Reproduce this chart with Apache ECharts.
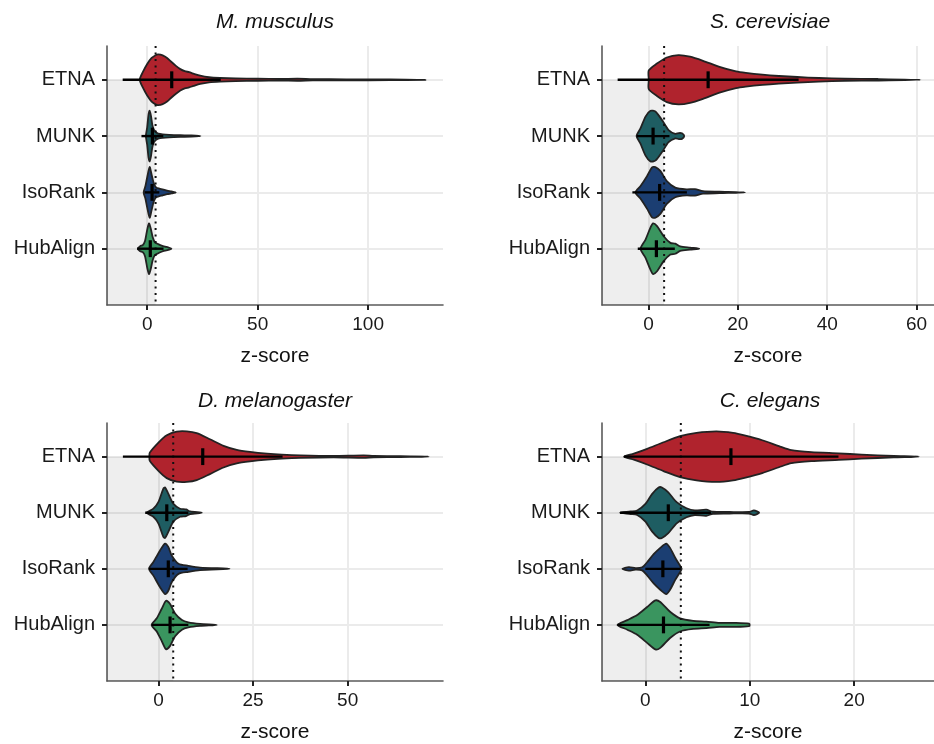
<!DOCTYPE html>
<html>
<head>
<meta charset="utf-8">
<script src="https://cdn.jsdelivr.net/npm/echarts@6/dist/echarts.min.js"></script>
<style>
  html, body { margin: 0; padding: 0; background: #fff; }
  #chart { width: 934px; height: 744px; }
</style>
</head>
<body>
<div id="chart"></div>
<script>
const methods = ['ETNA', 'MUNK', 'IsoRank', 'HubAlign'];
const methodColors = ['#b0232d', '#1e5d62', '#1b3e72', '#3a955f'];
const species = ['M. musculus', 'S. cerevisiae', 'D. melanogaster', 'C. elegans'];
const xMin = [-18.2, -10.4, -13.6, -4.15];
const xMax = [133.9, 63.9, 75.2, 27.65];
const xTicks = [[0, 50, 100], [0, 20, 40, 60], [0, 25, 50], [0, 10, 20]];
const threshold = [3.8, 3.5, 3.9, 3.4];

// mean and mean +/- sd, order ETNA, MUNK, IsoRank, HubAlign
const musculusMean = [11.1, 2.35, 2.2, 1.4];
const musculusLo = [-11.1, -2.6, -1.1, -4.6];
const musculusHi = [33.3, 7.3, 5.5, 7.4];
const cerevisiaeMean = [13.35, 1.03, 2.5, 1.77];
const cerevisiaeLo = [-6.9, -2.65, -3.6, -2.4];
const cerevisiaeHi = [33.6, 4.7, 8.6, 5.9];
const melanogasterMean = [11.7, 2.2, 2.6, 3.07];
const melanogasterLo = [-9.4, -3.5, -2.5, -1.8];
const melanogasterHi = [32.8, 7.9, 7.7, 7.9];
const elegansMean = [8.2, 2.2, 1.68, 1.74];
const elegansLo = [-2.04, -2.42, 0.0, -2.67];
const elegansHi = [18.5, 6.3, 3.4, 6.15];

// violin outlines: [z-score, relative half width]
const musculusETNA = [[-3.4,0],[-2,0.3],[0,0.62],[2,0.86],[4,0.98],[5,1.0],[7,0.96],[9,0.86],[11,0.7],[13,0.55],[15,0.42],[17,0.34],[19,0.3],[21,0.24],[24,0.16],[28,0.1],[33,0.07],[40,0.05],[50,0.04],[60,0.03],[68,0.04],[75,0.025],[90,0.02],[110,0.015],[126,0]];
const musculusMUNK = [[-0.6,0],[0,0.35],[0.6,0.85],[1.1,1.0],[1.7,0.8],[2.3,0.45],[3,0.25],[4,0.15],[5,0.1],[7,0.07],[10,0.05],[15,0.035],[20,0.025],[24.1,0]];
const musculusIsoRank = [[-1.6,0],[-0.8,0.25],[0,0.6],[1.1,1.0],[2,0.7],[3,0.35],[4,0.2],[5.5,0.15],[7,0.12],[9,0.07],[11,0.04],[12.9,0]];
const musculusHubAlign = [[-4.2,0],[-3.2,0.1],[-2,0.14],[-1,0.3],[0,0.75],[0.8,1.0],[1.6,0.8],[2.5,0.45],[3.5,0.25],[5,0.18],[6.5,0.12],[8,0.08],[9.5,0.05],[11,0]];

const cerevisiaeETNA = [[0.07,0],[0.07,0.37],[1.9,0.64],[4.1,0.88],[6.7,0.97],[9.3,0.91],[12.2,0.75],[15.9,0.51],[19.6,0.33],[21.8,0.27],[25.5,0.2],[29.2,0.15],[33.3,0.11],[38.1,0.07],[44,0.04],[51.3,0.03],[60.9,0]];
const cerevisiaeMUNK = [[-2.65,0],[-1.77,0.31],[-0.66,0.77],[0.44,1.0],[1.55,0.97],[3.0,0.64],[4.5,0.24],[6.0,0.09],[6.8,0.12],[7.5,0.11],[8.0,0]];
const cerevisiaeIsoRank = [[-2.9,0],[-1.77,0.25],[-0.3,0.65],[0.81,0.99],[1.55,1.0],[2.65,0.85],[4.1,0.45],[6.0,0.19],[8.5,0.12],[10.4,0.13],[12.2,0.05],[15.9,0.03],[21.6,0]];
const cerevisiaeHubAlign = [[-1.77,0],[-0.66,0.36],[0.44,0.83],[1.03,1.0],[1.92,0.89],[3.4,0.49],[4.9,0.23],[6.0,0.2],[7.1,0.09],[9.3,0.04],[11.35,0]];

const melanogasterETNA = [[-2.4,0],[-2.3,0.16],[0,0.56],[2.2,0.85],[4.8,0.99],[7.5,1.0],[10.1,0.93],[13.6,0.69],[17.2,0.43],[20.7,0.27],[24.2,0.19],[28.7,0.12],[32.6,0.08],[37.5,0.05],[46.3,0.03],[54.2,0.05],[56.9,0.03],[63.9,0.015],[71.4,0]];
const melanogasterMUNK = [[-3.1,0],[-1.34,0.16],[0,0.43],[1.3,0.96],[1.75,1.0],[2.6,0.76],[3.9,0.36],[5.7,0.16],[7.3,0.13],[8.4,0.05],[11.45,0]];
const melanogasterIsoRank = [[-2.5,0],[-1.34,0.27],[0.42,0.73],[1.75,1.0],[2.6,0.87],[3.5,0.53],[5.3,0.2],[7.9,0.12],[11,0.05],[18.8,0]];
const melanogasterHubAlign = [[-1.8,0],[-0.45,0.26],[0.87,0.64],[2.0,0.96],[3.07,0.83],[4.4,0.45],[6.2,0.19],[7.9,0.1],[11,0.04],[15.4,0]];

const elegansETNA = [[-2.04,0],[-1.1,0.12],[0.17,0.31],[1.74,0.57],[3.32,0.81],[4.9,0.94],[6.8,1.0],[8.4,0.94],[9.6,0.83],[11.2,0.65],[12.8,0.42],[14.0,0.26],[15.9,0.18],[18.5,0.13],[20.7,0.08],[23.8,0.03],[26.2,0]];
const elegansMUNK = [[-2.42,0],[-1.41,0.05],[-0.78,0.09],[0.01,0.35],[0.64,0.74],[1.27,1.0],[1.59,1.0],[2.2,0.81],[3.0,0.42],[3.95,0.18],[4.74,0.09],[5.84,0.12],[6.47,0.04],[8.05,0.03],[9.94,0.03],[10.4,0.09],[10.9,0]];
const elegansIsoRank = [[-2.2,0],[-1.57,0.07],[-0.94,0.03],[-0.3,0.06],[0.17,0.26],[0.8,0.58],[1.43,0.83],[2.0,1.0],[2.37,0.83],[2.85,0.45],[3.32,0.13],[3.48,0]];
const elegansHubAlign = [[-2.67,0],[-1.72,0.19],[-0.78,0.39],[0.17,0.71],[0.96,0.97],[1.43,0.91],[2.37,0.52],[3.32,0.26],[4.58,0.16],[5.84,0.13],[7.1,0.08],[8.7,0.08],[9.94,0.05],[10.0,0]];

const profiles = [
  [musculusETNA, musculusMUNK, musculusIsoRank, musculusHubAlign],
  [cerevisiaeETNA, cerevisiaeMUNK, cerevisiaeIsoRank, cerevisiaeHubAlign],
  [melanogasterETNA, melanogasterMUNK, melanogasterIsoRank, melanogasterHubAlign],
  [elegansETNA, elegansMUNK, elegansIsoRank, elegansHubAlign]
];
const means = [musculusMean, cerevisiaeMean, melanogasterMean, elegansMean];
const lows = [musculusLo, cerevisiaeLo, melanogasterLo, elegansLo];
const highs = [musculusHi, cerevisiaeHi, melanogasterHi, elegansHi];

const FONT = '"Liberation Sans", Arial, Helvetica, sans-serif';
const halfWidth = 0.45;   // max half width of a violin, in category units
const crossHalf = 0.15;
const yPos = i => 4 - i;  // ETNA on top

const gridBoxes = [
  { left: 107, top: 46, width: 336, height: 259 },
  { left: 602, top: 46, width: 336, height: 259 },
  { left: 107, top: 423, width: 336, height: 260 },
  { left: 602, top: 423, width: 336, height: 260 }
];

const chart = echarts.init(document.getElementById('chart'));

const grid = [], xAxis = [], yAxis = [], series = [], graphic = [];

species.forEach((name, p) => {
  grid.push(Object.assign({ containLabel: false }, gridBoxes[p]));

  xAxis.push({
    gridIndex: p, type: 'value', min: xMin[p], max: xMax[p],
    name: 'z-score', nameLocation: 'middle', nameGap: 41,
    nameTextStyle: { fontSize: 21, color: '#111', fontFamily: FONT },
    axisLine: { show: true, onZero: false, lineStyle: { color: '#5b5b5b', width: 1.6 } },
    axisTick: { show: true, length: 5, customValues: xTicks[p], lineStyle: { color: '#222', width: 2 } },
    axisLabel: { customValues: xTicks[p], fontSize: 19, color: '#1a1a1a', fontFamily: FONT, margin: 10 },
    splitLine: { show: true, lineStyle: { color: '#ebebeb', width: 2 } }
  });

  yAxis.push({
    gridIndex: p, type: 'value', min: 0, max: 4.6,
    axisLine: { show: true, onZero: false, lineStyle: { color: '#5b5b5b', width: 1.6 } },
    axisTick: { show: true, length: 5, customValues: [1, 2, 3, 4], lineStyle: { color: '#222', width: 2 } },
    axisLabel: {
      customValues: [1, 2, 3, 4], fontSize: 20, color: '#1a1a1a', fontFamily: FONT, margin: 12,
      formatter: v => methods[4 - v]
    },
    splitLine: { show: true, lineStyle: { color: '#ebebeb', width: 2 } }
  });

  // grey band below the significance threshold
  series.push({
    type: 'custom', xAxisIndex: p, yAxisIndex: p, silent: true, z: 1,
    data: [[xMin[p], threshold[p]]],
    renderItem(params, api) {
      const a = api.coord([api.value(0), yPos(0)]);
      const b = api.coord([api.value(1), 0]);
      return { type: 'rect', shape: { x: a[0], y: a[1], width: b[0] - a[0], height: b[1] - a[1] },
               style: { fill: 'rgba(0,0,0,0.065)' } };
    }
  });

  // violins
  series.push({
    type: 'custom', xAxisIndex: p, yAxisIndex: p, silent: true, z: 2,
    data: methods.map((m, i) => [i]),
    renderItem(params, api) {
      const i = api.value(0);
      const prof = profiles[p][i];
      const y = yPos(i);
      const top = prof.map(d => api.coord([d[0], y + d[1] * halfWidth]));
      const bottom = prof.slice(1, -1).reverse().map(d => api.coord([d[0], y - d[1] * halfWidth]));
      return { type: 'polygon', shape: { points: top.concat(bottom), smooth: 0.25 },
               style: { fill: methodColors[i], stroke: '#222', lineWidth: 1.8, lineJoin: 'round' } };
    }
  });

  // dotted threshold line
  series.push({
    type: 'custom', xAxisIndex: p, yAxisIndex: p, silent: true, z: 3,
    data: [[threshold[p]]],
    renderItem(params, api) {
      const a = api.coord([api.value(0), 4.6]);
      const b = api.coord([api.value(0), 0]);
      return { type: 'line', shape: { x1: a[0], y1: a[1], x2: b[0], y2: b[1] },
               style: { stroke: '#111', lineWidth: 2, lineDash: [2, 4.5] } };
    }
  });

  // mean +/- sd line and mean cross
  series.push({
    type: 'custom', xAxisIndex: p, yAxisIndex: p, silent: true, z: 4,
    data: methods.map((m, i) => [lows[p][i], highs[p][i], means[p][i], yPos(i)]),
    renderItem(params, api) {
      const y = api.value(3), m = api.value(2);
      const l1 = api.coord([api.value(0), y]);
      const l2 = api.coord([api.value(1), y]);
      const c1 = api.coord([m, y + crossHalf]);
      const c2 = api.coord([m, y - crossHalf]);
      return { type: 'group', children: [
        { type: 'line', shape: { x1: l1[0], y1: l1[1], x2: l2[0], y2: l2[1] }, style: { stroke: '#000', lineWidth: 2.4 } },
        { type: 'line', shape: { x1: c1[0], y1: c1[1], x2: c2[0], y2: c2[1] }, style: { stroke: '#000', lineWidth: 3.2 } }
      ] };
    }
  });

  graphic.push({
    type: 'text', x: gridBoxes[p].left + 168, y: p < 2 ? 22 : 401,
    style: { text: name, fill: '#111', font: 'italic 21px ' + FONT, align: 'center', verticalAlign: 'middle' }
  });
});

chart.setOption({
  backgroundColor: '#fff',
  animation: false,
  grid: grid,
  xAxis: xAxis,
  yAxis: yAxis,
  series: series,
  graphic: graphic
});
</script>
</body>
</html>
